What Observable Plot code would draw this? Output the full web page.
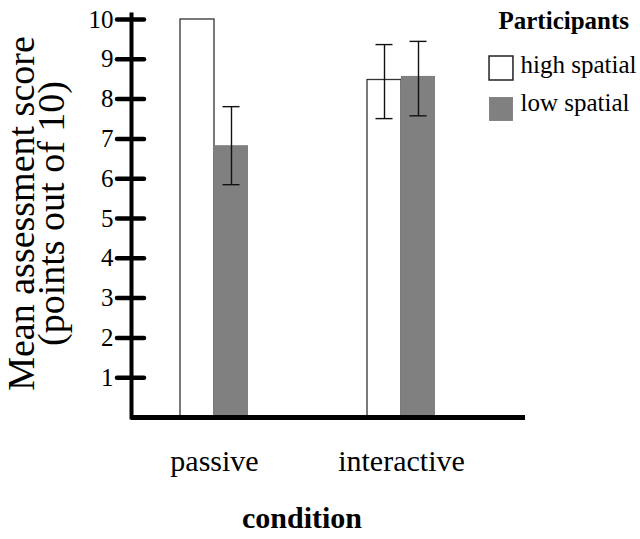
<!DOCTYPE html>
<html>
<head>
<meta charset="utf-8">
<script src="https://cdn.jsdelivr.net/npm/d3@7"></script>
<script src="https://cdn.jsdelivr.net/npm/@observablehq/plot@0.6"></script>
<style>
  html, body { margin: 0; padding: 0; background: #fff; }
  #chart svg { display: block; }
  #chart svg, #chart svg text { font-family: "Liberation Serif", serif !important; }
</style>
</head>
<body>
<div id="chart"></div>
<script>
const conditions = ["passive", "interactive"];
const groups = ["high spatial", "low spatial"];
const highMeans = [10, 8.48];
const lowMeans = [6.83, 8.57];
const highErrLow = [null, 7.51];
const highErrHigh = [null, 9.37];
const lowErrLow = [5.85, 7.58];
const lowErrHigh = [7.81, 9.45];
const yTicks = [1, 2, 3, 4, 5, 6, 7, 8, 9, 10];
const yLabel = "Mean assessment score\n(points out of 10)";
const xLabel = "condition";
const legendTitle = "Participants";

const high = conditions.map((c, i) => ({condition: c, value: highMeans[i], lo: highErrLow[i], hi: highErrHigh[i]}));
const low = conditions.map((c, i) => ({condition: c, value: lowMeans[i], lo: lowErrLow[i], hi: lowErrHigh[i]}));
const highErr = high.filter(d => d.lo != null);
const lowErr = low.filter(d => d.lo != null);

const font = "Liberation Serif";

const chart = Plot.plot({
  width: 640,
  height: 539,
  marginLeft: 131,
  marginRight: 115,
  marginTop: 19,
  marginBottom: 122,
  style: {fontFamily: font, background: "#fff", color: "#000", overflow: "visible"},
  x: {domain: conditions, paddingInner: 0.636, paddingOuter: 0.371, align: 0.353},
  y: {domain: [0, 10]},
  marks: [
    Plot.barY(high, {x: "condition", y: "value", fill: "#fff", stroke: "#333", strokeWidth: 1.3, insetRight: 34}),
    Plot.barY(low, {x: "condition", y: "value", fill: "#808080", insetLeft: 34}),
    Plot.ruleX(highErr, {x: "condition", y1: "lo", y2: "hi", dx: -17, stroke: "#111", strokeWidth: 1.4}),
    Plot.ruleX(lowErr, {x: "condition", y1: "lo", y2: "hi", dx: 17, stroke: "#111", strokeWidth: 1.4}),
    Plot.tickY(highErr, {x: "condition", y: "lo", insetLeft: 8.5, insetRight: 42.5, stroke: "#111", strokeWidth: 1.4}),
    Plot.tickY(highErr, {x: "condition", y: "hi", insetLeft: 8.5, insetRight: 42.5, stroke: "#111", strokeWidth: 1.4}),
    Plot.tickY(lowErr, {x: "condition", y: "lo", insetLeft: 42.5, insetRight: 8.5, stroke: "#111", strokeWidth: 1.4}),
    Plot.tickY(lowErr, {x: "condition", y: "hi", insetLeft: 42.5, insetRight: 8.5, stroke: "#111", strokeWidth: 1.4}),
    // y axis line
    Plot.frame({insetLeft: -2, insetRight: 392, insetTop: -7, insetBottom: -2, fill: "#000", stroke: "none"}),
    // x axis line
    Plot.ruleY([0], {stroke: "#000", strokeWidth: 5}),
    // y tick marks crossing the axis
    Plot.ruleY(yTicks, {y: d => d, insetRight: 367, dx: -14, stroke: "#000", strokeWidth: 4.5, strokeLinecap: "round"}),
    Plot.axisY(yTicks, {tickSize: 0, tickPadding: 18, fontSize: 25, fontFamily: font, label: null}),
    Plot.axisX({tickSize: 0, tickPadding: 32, fontSize: 30, fontFamily: font, label: null}),
    Plot.text([yLabel], {frameAnchor: "left", rotate: -90, dx: -92, dy: -5, fontSize: 38, fontFamily: font, lineHeight: 0.78, lineAnchor: "middle", textAnchor: "middle", fill: "#000"}),
    Plot.text([xLabel], {frameAnchor: "bottom", dx: -26.5, dy: 101, fontSize: 30, fontFamily: font, fontWeight: "bold", lineAnchor: "middle", fill: "#000"}),
    // legend
    Plot.text([legendTitle], {frameAnchor: "top-left", dx: 367, dy: 1, fontSize: 25, fontFamily: font, fontWeight: "bold", textAnchor: "start", lineAnchor: "middle", fill: "#000"}),
    Plot.dot([groups[0]], {frameAnchor: "top-left", dx: 369.5, dy: 48.5, symbol: "square", r: 13.5, fill: "#fff", stroke: "#222", strokeWidth: 1.5}),
    Plot.dot([groups[1]], {frameAnchor: "top-left", dx: 369.5, dy: 89.5, symbol: "square", r: 13.5, fill: "#808080"}),
    Plot.text([groups[0]], {frameAnchor: "top-left", dx: 389, dy: 45.5, fontSize: 25, fontFamily: font, textAnchor: "start", lineAnchor: "middle", fill: "#000"}),
    Plot.text([groups[1]], {frameAnchor: "top-left", dx: 389, dy: 83, fontSize: 25, fontFamily: font, textAnchor: "start", lineAnchor: "middle", fill: "#000"})
  ]
});
document.getElementById("chart").appendChild(chart);
</script>
</body>
</html>
